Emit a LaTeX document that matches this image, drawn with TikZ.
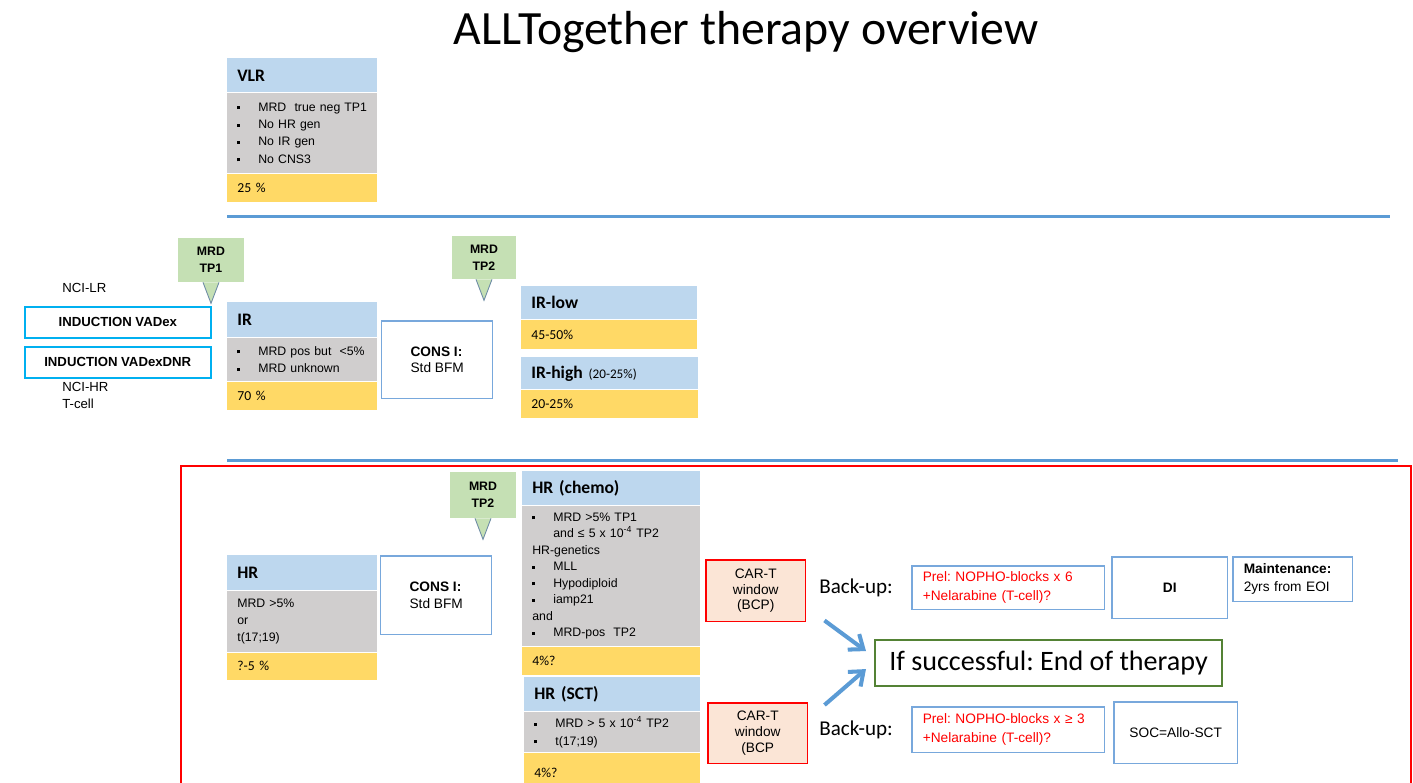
\documentclass[tikz,border=0pt]{standalone}
\usepackage{fontspec}
\setmainfont{Liberation Sans}
\newfontfamily\calfont{Carlito}
\usetikzlibrary{positioning, calc, arrows.meta}
\definecolor{hdrblue}{RGB}{189,215,238}
\definecolor{bodygray}{RGB}{208,206,206}
\definecolor{pctyellow}{RGB}{255,217,102}
\definecolor{mrdgreen}{RGB}{197,224,180}
\definecolor{lineblue}{RGB}{91,155,213}
\definecolor{boxblue}{RGB}{120,168,220}
\definecolor{inducyan}{RGB}{0,176,240}
\definecolor{cartpeach}{RGB}{251,229,214}
\definecolor{okgreen}{RGB}{84,130,53}
\definecolor{tipedge}{RGB}{110,140,165}
\newcommand{\itm}{\makebox[0.42cm][l]{\raisebox{0.3ex}{\rule{1.7pt}{1.7pt}}}}
\newcommand{\ind}{\hspace*{0.42cm}}

\begin{document}
\frenchspacing
\begin{tikzpicture}[x=0.02cm, y=-0.02cm,
      hdr/.style={anchor=north west, fill=hdrblue, text width=#1, inner xsep=0.2cm, inner ysep=0pt,
                  align=left, font=\calfont\bfseries\fontsize{10}{12}\selectfont},
      body/.style={anchor=north west, fill=bodygray, text width=#1, inner xsep=0.2cm, inner ysep=0pt,
                  align=left, font=\fontsize{7}{9.9}\selectfont},
      pct/.style={anchor=north west, fill=pctyellow, text width=#1, inner xsep=0.2cm, inner ysep=0pt,
                  align=left, font=\calfont\fontsize{7.8}{9}\selectfont},
      mrd/.style={fill=mrdgreen, minimum width=1.34cm, minimum height=0.88cm, align=center,
                  font=\bfseries\fontsize{7}{9.6}\selectfont},
      induc/.style={anchor=north west, draw=inducyan, line width=0.9pt, minimum width=3.72cm,
                  minimum height=0.62cm, font=\bfseries\fontsize{7.5}{9}\selectfont},
      cons/.style={anchor=north west, draw=boxblue, line width=0.85pt, minimum width=2.22cm,
                  minimum height=1.56cm, align=left, font=\fontsize{7.8}{9.6}\selectfont},
      cart/.style={anchor=north west, draw=red, fill=cartpeach, line width=0.85pt, minimum width=2cm,
                  minimum height=1.24cm, align=center, font=\fontsize{7.8}{9}\selectfont},
      prel/.style={anchor=north west, draw=boxblue, line width=0.85pt, text width=3.42cm, inner xsep=0.22cm,
                  minimum height=0.9cm, align=left, text=red, font=\fontsize{7.8}{10.6}\selectfont},
      wbox/.style={anchor=north west, draw=boxblue, line width=0.85pt, align=center,
                  font=\fontsize{7.8}{10.2}\selectfont},
      lbl/.style={anchor=west, inner sep=0pt, align=left, font=\fontsize{7.5}{9.6}\selectfont},
      backup/.style={anchor=west, inner sep=0pt, font=\calfont\fontsize{12}{14}\selectfont},
      sepline/.style={lineblue, line width=1.7pt},
      bigarr/.style={-{Straight Barb[length=7pt, width=11pt]}, lineblue, line width=2.3pt}]
    \useasboundingbox (0,0) rectangle (1413,782);

    \node[font=\calfont\fontsize{27.2}{30}\selectfont] (title) at (746,32) {ALLTogether therapy overview};

    % very low risk
    \node[hdr=2.6cm, minimum height=0.68cm] (vlrh) at (227,58) {VLR};
    \node[body=2.6cm, minimum height=1.6cm] (vlrb) at (vlrh.south west)
        {\itm MRD~ true neg TP1\\ \itm No HR gen\\ \itm No IR gen\\ \itm No CNS3};
    \node[pct=2.6cm, minimum height=0.56cm] (vlrp) at (vlrb.south west) {25 \%};

    \draw[sepline] (227,216) -- (1390,216);
    \draw[sepline] (227,460) -- (1398,460);

    % induction
    \node[lbl] (ncilr) at (62,288) {NCI-LR};
    \node[induc] (vadex) at (24,306) {INDUCTION VADex};
    \node[induc] (vadexdnr) at (24,346) {INDUCTION VADexDNR};
    \node[lbl] (ncihr) at (62,395.5) {NCI-HR\\T-cell};

    % intermediate risk
    \node[hdr=2.6cm, minimum height=0.7cm] (irh) at (227,302) {IR};
    \node[body=2.6cm, minimum height=0.86cm] (irb) at (irh.south west)
        {\itm MRD pos but~ <5\%\\ \itm MRD unknown};
    \node[pct=2.6cm, minimum height=0.56cm] (irp) at (irb.south west) {70 \%};
    \node[cons] (cons1) at (381,320) {\textbf{CONS I:}\\Std BFM};

    \node[hdr=3.12cm, minimum height=0.66cm] (irlowh) at (521,286) {IR-low};
    \node[pct=3.12cm, minimum height=0.58cm] (irlowp) at (irlowh.south west) {45-50\%};
    \node[hdr=3.14cm, minimum height=0.64cm] (irhighh) at (521,357)
        {IR-high {\mdseries\fontsize{7.5}{9}\selectfont(20-25\%)}};
    \node[pct=3.14cm, minimum height=0.56cm] (irhighp) at (irhighh.south west) {20-25\%};

    % high risk
    \draw[red, line width=1.4pt] (181,790) -- (181,466) -- (1411,466) -- (1411,790);
    \node[hdr=2.6cm, minimum height=0.7cm] (hrh) at (227,555) {HR};
    \node[body=2.6cm, minimum height=1.22cm] (hrb) at (hrh.south west) {MRD >5\%\\or\\t(17;19)};
    \node[pct=2.6cm, minimum height=0.54cm] (hrp) at (hrb.south west) {?-5 \%};
    \node[cons, minimum height=1.58cm] (cons2) at (380,555) {\textbf{CONS I:}\\Std BFM};

    \node[hdr=3.16cm, minimum height=0.68cm] (chemoh) at (522,471) {HR (chemo)};
    \node[body=3.16cm, minimum height=2.8cm, font=\fontsize{7}{9.4}\selectfont] (chemob) at (chemoh.south west)
        {\itm MRD >5\% TP1\\ \ind and ≤ 5 x 10\textsuperscript{-4} TP2\\ HR-genetics\\ \itm MLL\\
         \itm Hypodiploid\\ \itm iamp21\\ and\\ \itm MRD-pos~ TP2};
    \node[pct=3.16cm, minimum height=0.56cm] (chemop) at (chemob.south west) {4\%?};
    \node[hdr=3.12cm, minimum height=0.68cm] (scth) at (524,677) {HR (SCT)};
    \node[body=3.12cm, minimum height=0.8cm] (sctb) at (scth.south west)
        {\itm MRD > 5 x 10\textsuperscript{-4} TP2\\ \itm t(17;19)};
    \node[pct=3.12cm, minimum height=0.8cm] (sctp) at (sctb.south west) {4\%?};

    % MRD time points
    \node[mrd] (tp1) at (211,260) {MRD\\TP1};
    \node[mrd, minimum width=1.28cm, minimum height=0.86cm] (tp2a) at (484,257.5) {MRD\\TP2};
    \node[mrd, minimum width=1.32cm, minimum height=0.92cm] (tp2b) at (483,495) {MRD\\TP2};
    \foreach \c in {tp1, tp2a, tp2b} {
      \fill[mrdgreen] ($(\c.south)+(-8,0)$) -- ($(\c.south)+(0,21)$) -- ($(\c.south)+(8,0)$) -- cycle;
      \draw[tipedge, line width=0.5pt] ($(\c.south)+(-8,0)$) -- ($(\c.south)+(0,21)$) -- ($(\c.south)+(8,0)$);
    }

    % CAR-T and back-up
    \node[cart] (cart1) at (705,559) {CAR-T\\window\\(BCP)};
    \node[cart, minimum height=1.22cm] (cart2) at (707,702) {CAR-T\\window\\(BCP};
    \node[backup] (bk1) at (819,588) {Back-up:};
    \node[backup] (bk2) at (819,730) {Back-up:};
    \node[prel, minimum height=0.88cm] (prel1) at (911,565) {Prel: NOPHO-blocks x 6\\+Nelarabine (T-cell)?};
    \node[prel, minimum height=0.92cm] (prel2) at (911,706) {Prel: NOPHO-blocks x ≥ 3\\+Nelarabine (T-cell)?};
    \node[wbox, minimum width=2.32cm, minimum height=1.24cm, font=\bfseries\fontsize{7.8}{10}\selectfont] (di) at (1111,556) {DI};
    \node[wbox, text width=1.96cm, inner xsep=0.22cm, minimum height=0.9cm, align=left] (maint) at (1232,556)
        {\textbf{Maintenance:}\\2yrs from EOI};
    \node[wbox, minimum width=2.48cm, minimum height=1.24cm] (soc) at (1113,701) {SOC=Allo-SCT};
    \node[wbox, draw=okgreen, line width=1.2pt, minimum width=6.94cm, minimum height=0.92cm,
          font=\calfont\fontsize{16}{18}\selectfont] (succ) at (874,639) {If successful: End of therapy};

    \draw[bigarr] ($(cart1.south east)+(18,-2)$) -- ($(succ.west)+(-8,-12)$);
    \draw[bigarr] ($(cart2.north east)+(16,3)$) -- ($(succ.west)+(-8,6)$);
  \end{tikzpicture}
\end{document}
